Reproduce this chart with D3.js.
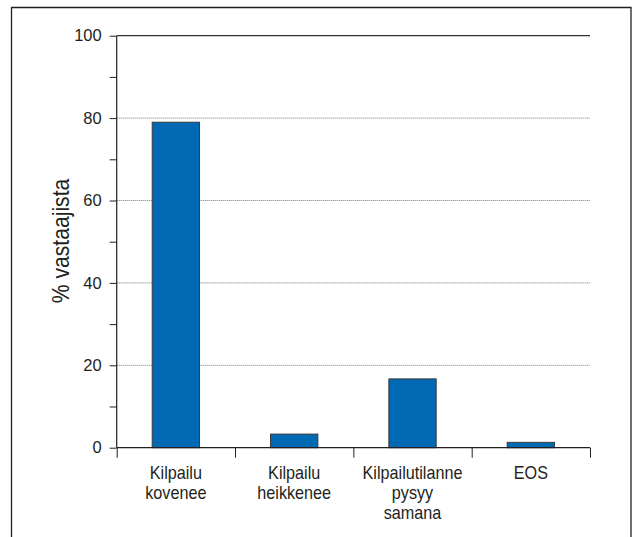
<!DOCTYPE html>
<html><head><meta charset="utf-8">
<script src="https://cdn.jsdelivr.net/npm/d3@7"></script>
<style>body{margin:0;background:#fff}svg{display:block}text{font-family:"Liberation Sans",Arial,sans-serif;fill:#231f20}</style>
</head><body><svg id="c" width="632" height="537"></svg>
<script>
const categories = [["Kilpailu","kovenee"],["Kilpailu","heikkenee"],["Kilpailutilanne","pysyy","samana"],["EOS"]];
const values = [79, 3.3, 16.7, 1.3];
const yMajorTicks = [0,20,40,60,80,100];
const yMinorTicks = [10,30,50,70,90];
const yLabel = "% vastaajista";

const svg = d3.select("#c");
const m = {l:116.7, r:590, t:35.7, b:447.7};
svg.append("path").attr("d","M11.5,537V7.5H631V537").attr("fill","none").attr("stroke","#231f20").attr("stroke-width",1.3);

const x = d3.scaleBand().domain(d3.range(categories.length)).range([m.l,m.r]).paddingInner(0.6).paddingOuter(0.3);
const y = d3.scaleLinear().domain([0,100]).range([m.b,m.t]);

// grid
svg.append("g").selectAll("line").data(yMajorTicks.filter(d=>d>0&&d<100)).join("line")
  .attr("x1",m.l).attr("x2",m.r).attr("y1",d=>y(d)).attr("y2",d=>y(d))
  .attr("stroke","#777").attr("stroke-width",1).attr("stroke-dasharray","1,1");
svg.append("line").attr("x1",m.l).attr("x2",m.r).attr("y1",y(100)).attr("y2",y(100)).attr("stroke","#333").attr("stroke-width",1.2);

// bars
svg.append("g").selectAll("rect").data(values).join("rect")
  .attr("x",(d,i)=>x(i)).attr("width",x.bandwidth())
  .attr("y",d=>y(d)).attr("height",d=>y(0)-y(d))
  .attr("fill","#0069b4").attr("stroke","#3a3a3a").attr("stroke-width",1);

// y axis
const ya = svg.append("g").attr("transform",`translate(${m.l},0)`)
  .call(d3.axisLeft(y).tickValues(yMajorTicks.concat(yMinorTicks)).tickSize(7).tickPadding(8)
    .tickFormat(d=>yMajorTicks.includes(d)?d:""));
ya.select(".domain").attr("d",`M0,${m.t}V${m.b}`).attr("stroke","#231f20").attr("stroke-width",1.2);
ya.selectAll(".tick line").attr("stroke","#231f20");
ya.selectAll("text").style("font-size","16.5px").attr("fill","#231f20");

// x axis
const xb = d3.scaleLinear().domain([0,categories.length]).range([m.l,m.r]);
const xa = svg.append("g").attr("transform",`translate(0,${m.b})`)
  .call(d3.axisBottom(xb).tickValues(d3.range(categories.length+1)).tickSize(10).tickFormat(""));
xa.select(".domain").attr("d",`M${m.l},0H${m.r}`).attr("stroke","#231f20").attr("stroke-width",1.2);
xa.selectAll(".tick line").attr("stroke","#231f20");

svg.append("g").selectAll("text").data(categories).join("text")
  .attr("transform",(d,i)=>`translate(${x(i)+x.bandwidth()/2},479) scale(0.9,1)`)
  .attr("text-anchor","middle").style("font-size","18px")
  .selectAll("tspan").data(d=>d).join("tspan").attr("x",0)
  .attr("dy",(d,i)=>i?20/1:0).text(d=>d);

svg.append("text").attr("transform","translate(69,241) rotate(-90) scale(0.92,1)").attr("text-anchor","middle")
  .style("font-size","23px").text(yLabel);
</script></body></html>
